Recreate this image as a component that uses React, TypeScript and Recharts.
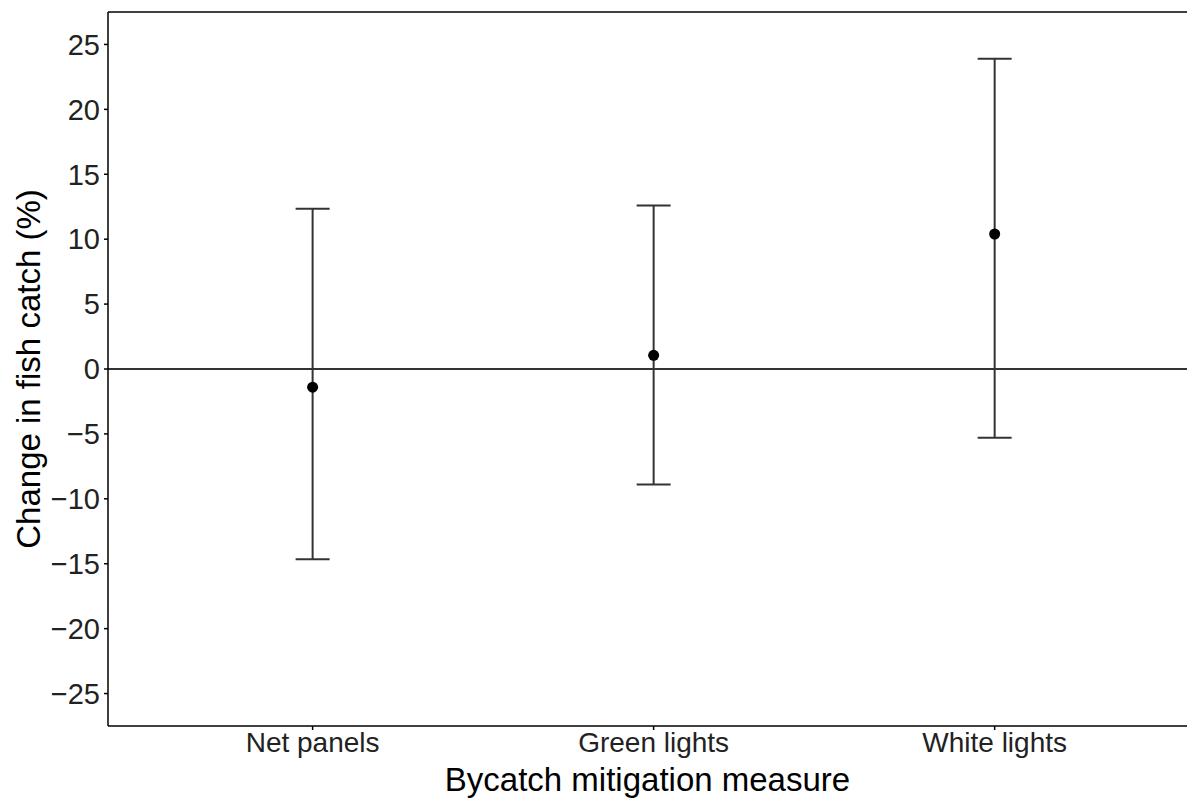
import { ScatterChart, Scatter, XAxis, YAxis, ErrorBar, ReferenceLine, Label } from 'recharts';

const categories = ['Net panels', 'Green lights', 'White lights'];
const means = [-1.4, 1.05, 10.4];
const lowerCI = [-14.65, -8.9, -5.3];
const upperCI = [12.35, 12.6, 23.9];
const yTicks = [-25, -20, -15, -10, -5, 0, 5, 10, 15, 20, 25];
const xTicks = [1, 2, 3];

const data = categories.map((name, i) => ({
  x: i + 1,
  name,
  mean: means[i],
  err: [means[i] - lowerCI[i], upperCI[i] - means[i]],
}));

const font = '"Liberation Sans", Arial, sans-serif';
const ink = '#333333';

const Dot = (props: any) => <circle cx={props.cx} cy={props.cy} r={5.5} fill="#000" />;

export default function App() {
  return (
    <div style={{ position: 'absolute', left: 0, top: 0, width: 1187, height: 798, background: '#fff' }}>
      <ScatterChart width={1187} height={798} margin={{ top: 12, right: 0, bottom: 0, left: 0 }}>
        <XAxis
          type="number"
          dataKey="x"
          domain={[0.4, 3.564]}
          ticks={xTicks}
          tickFormatter={(v: number) => categories[v - 1] ?? ''}
          allowDataOverflow
          height={72}
          tickSize={4}
          tickMargin={2}
          stroke="#000"
          strokeWidth={1.5}
          tick={{ fontSize: 28, fill: '#222', fontFamily: font }}
        >
          <Label
            value="Bycatch mitigation measure"
            position="insideBottom"
            offset={7}
            style={{ fontSize: 33, fill: '#000', fontFamily: font }}
          />
        </XAxis>
        <YAxis
          type="number"
          dataKey="mean"
          domain={[-27.5, 27.5]}
          ticks={yTicks}
          allowDataOverflow
          width={108}
          tickSize={4}
          tickMargin={4}
          stroke="#000"
          strokeWidth={1.5}
          tickFormatter={(v: number) => (v < 0 ? '\u2212' + Math.abs(v) : String(v))}
          tick={{ fontSize: 29, fill: '#222', fontFamily: font }}
        >
          <Label
            value="Change in fish catch (%)"
            angle={-90}
            position="insideLeft"
            offset={28}
            style={{ fontSize: 33, fill: '#000', fontFamily: font, textAnchor: 'middle' }}
          />
        </YAxis>
        <ReferenceLine y={27.5} stroke="#000" strokeWidth={1.5} />
        <ReferenceLine y={0} stroke={ink} strokeWidth={2} />
        <Scatter data={data} dataKey="mean" shape={Dot} isAnimationActive={false}>
          <ErrorBar dataKey="err" direction="y" width={17} stroke={ink} strokeWidth={2} />
        </Scatter>
      </ScatterChart>
    </div>
  );
}
